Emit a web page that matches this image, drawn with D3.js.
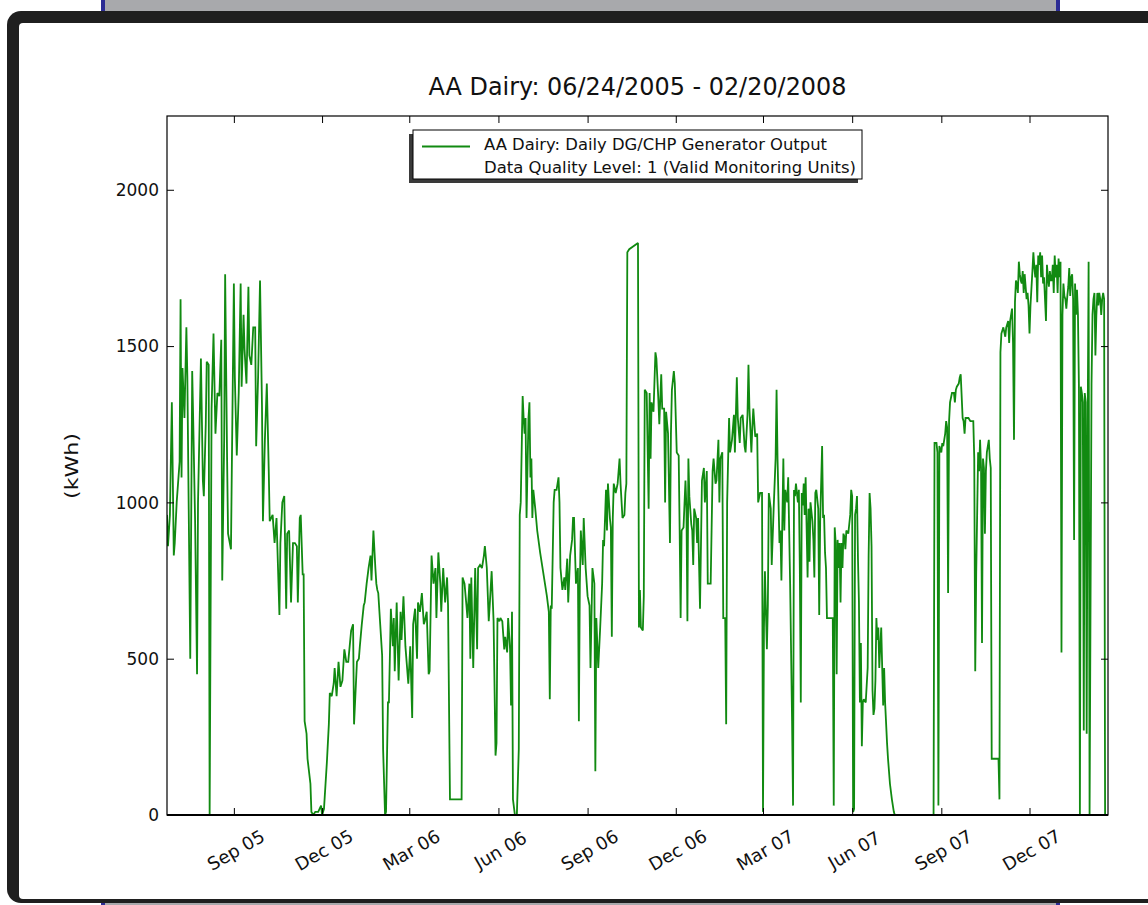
<!DOCTYPE html>
<html>
<head>
<meta charset="utf-8">
<script src="https://cdn.jsdelivr.net/npm/d3@7"></script>
<style>
  html, body { margin: 0; padding: 0; background: #ffffff; }
  svg { display: block; }
  text { font-family: "DejaVu Sans", "Liberation Sans", sans-serif; }
</style>
</head>
<body>
<svg id="chart" width="1148" height="905"></svg>
<script>
// ---------------- data ----------------
const chartTitle = "AA Dairy: 06/24/2005 - 02/20/2008";
const legendLines = ["AA Dairy: Daily DG/CHP Generator Output", "Data Quality Level: 1 (Valid Monitoring Units)"];
const yLabel = "(kWh)";
const startDate = "2005-06-24";
const endDate = "2008-02-20";
const yTicks = [0, 500, 1000, 1500, 2000];
const xTickDates = ["2005-09-01", "2005-12-01", "2006-03-01", "2006-06-01", "2006-09-01", "2006-12-01",
                    "2007-03-01", "2007-06-01", "2007-09-01", "2007-12-01"];
const xTickLabels = ["Sep 05", "Dec 05", "Mar 06", "Jun 06", "Sep 06", "Dec 06", "Mar 07", "Jun 07", "Sep 07", "Dec 07"];

// days after start date
const dayOffsets = [
  0,1,3,5,7,8,10,13,14,15,16,18,20,21,24,26,27,29,31,32,35,37,38,40,41,43,44,46,48,50,52,54,56,57,59,60,62,63,66,67,69,70,72,74,76,77,79,80,82,84,85,87,89,91,92,94,96,98,99,101,103,105,106,109,111,113,116,117,119,121,123,124,126,128,130,132,134,135,137,138,140,141,142,144,145,148,149,151,
  153,156,159,160,162,165,167,168,170,172,173,175,177,179,181,183,185,187,190,192,193,196,198,199,201,203,204,206,208,210,211,213,215,216,217,218,220,222,223,225,226,228,229,231,233,234,235,237,239,241,242,244,246,247,249,251,253,254,256,258,259,261,263,265,266,268,270,271,273,275,277,278,280,282,283,285,287,289,290,292,304,305,307,309,310,312,313,314,
  316,318,320,321,323,325,327,328,330,332,333,335,337,339,340,341,343,344,346,348,349,351,352,354,355,356,357,359,361,363,364,365,367,368,369,370,371,373,374,375,376,377,378,380,382,385,388,392,394,395,396,397,399,400,402,404,405,406,408,410,411,413,414,416,418,419,420,422,424,425,426,427,429,430,432,434,436,437,439,441,442,443,445,447,449,450,451,453,454,455,457,458,459,460,461,463,465,467,468,470,472,473,474,475,477,
  486,487,488,489,491,492,493,495,497,498,499,500,502,504,505,507,508,510,511,513,514,515,517,519,520,521,523,524,526,528,529,530,531,533,535,536,537,538,539,541,542,543,544,546,547,548,550,552,554,555,557,558,561,563,564,566,567,569,570,571,573,574,576,577,578,580,581,583,585,586,588,589,591,592,594,596,597,599,600,601,603,604,605,607,609,610,612,614,615,616,617,619,620,621,623,624,626,628,629,630,632,633,634,636,637,
  638,640,641,643,645,646,647,648,649,651,652,653,654,655,656,657,658,659,661,662,663,664,666,667,668,669,670,672,673,674,676,677,678,679,680,681,687,688,689,690,691,692,693,694,695,696,697,698,699,700,701,703,704,705,706,707,708,709,710,711,712,713,714,715,716,717,718,719,721,723,724,725,726,727,728,729,730,731,732,733,734,735,736,737,738,739,740,741,743,744,746,748,750,751,791,
  792,794,795,796,797,799,800,801,803,804,805,806,807,808,810,812,813,814,815,817,818,819,821,822,823,824,825,827,829,830,832,833,834,835,837,838,839,840,841,842,843,844,845,846,848,849,850,851,858,859,860,861,863,865,866,868,869,870,872,873,874,875,876,877,878,879,880,881,882,883,884,885,887,888,889,890,891,893,894,895,896,897,898,899,900,901,902,903,904,905,907,908,909,910,911,912,913,914,915,916,917,918,919,920,921,922,923,924,925,926,927,928,929,930,931,932,933,934,935,936,937,938,939,940,941,942,943,944,945,946,947,948,949,950,951,952,954,955,956,957,958,959,960,961,962,963,964,965,966,967,968,971
];
const kwh = [
  960,860,960,1320,830,870,1000,1130,1650,1080,1430,1270,1560,1400,500,1420,1270,940,450,1000,1460,1070,1020,1250,1450,1440,0,1300,1540,1220,1350,1340,1520,750,1200,1730,1140,900,850,1140,1700,1400,1150,1350,1700,1370,1600,1490,1380,1690,1470,1440,1560,1560,1180,1400,1710,1310,940,1200,1380,1100,940,960,870,950,640,870,1000,1020,660,900,910,680,870,870,860,680,950,960,770,770,300,260,180,100,10,0,
  10,10,30,0,20,170,290,390,380,420,470,380,490,410,430,530,490,490,590,610,290,490,500,540,610,670,680,740,790,830,750,910,790,740,720,710,610,510,210,0,10,360,360,660,540,630,460,680,430,650,560,700,540,500,420,540,310,610,660,500,680,650,710,610,620,650,450,460,830,740,790,630,840,740,650,790,680,760,670,50,50,760,740,670,630,740,500,760,
  470,790,530,790,800,790,830,860,790,620,670,780,620,190,230,630,620,630,620,530,570,520,630,530,350,650,50,0,0,210,960,1000,1340,1270,1220,1270,950,1270,1320,1080,1140,950,1040,980,910,840,780,700,650,370,670,660,1000,1040,1040,1080,1000,790,720,760,720,820,680,830,880,950,950,740,790,300,740,910,800,950,790,700,670,470,790,740,140,630,470,600,740,880,860,1040,910,1060,950,920,570,950,1060,1030,1060,1140,1060,950,960,1030,1060,1800,1810,
  1830,600,720,600,590,700,1360,1350,980,1350,1140,1320,1290,1480,1460,1330,1250,1410,1300,1300,1000,1290,1220,870,1220,1360,1420,1380,1160,1150,910,630,910,920,1070,980,620,1140,1020,930,910,800,980,950,870,950,660,1070,1110,1000,1100,740,740,1100,1140,1060,1070,1200,1000,1140,1160,630,630,290,1000,1270,1160,1200,1280,1160,1400,1270,1190,1270,1280,1180,1160,1280,1440,1300,1160,1240,1300,1210,1220,1000,1030,1030,10,600,780,530,670,1030,980,800,980,1140,1360,1140,870,910,750,1140,910,
  1040,1000,1080,740,300,30,1040,1020,1060,1000,1040,790,360,1030,990,1060,960,1080,760,980,810,1000,940,880,760,1030,1040,980,640,940,1180,950,960,840,790,630,630,30,920,870,450,880,790,870,680,870,790,900,890,850,910,900,930,960,1040,1020,10,20,960,980,1020,820,680,360,550,220,360,370,360,470,830,1030,980,860,400,320,340,430,630,560,600,470,540,600,470,350,470,360,230,180,100,50,10,0,0,
  1190,1190,1160,30,1180,1160,1190,1180,1220,1260,1240,710,1260,1320,1350,1350,1320,1360,1370,1380,1400,1410,1270,1260,1220,1270,1270,1270,1260,1260,1260,1140,460,770,1160,1100,1200,1110,550,1140,1110,900,1100,1160,1200,1140,1110,180,180,50,1480,1540,1560,1530,1560,1580,1510,1580,1620,1510,1200,1640,1710,1700,1670,1770,1730,1710,1700,1740,1670,1730,1650,1670,1630,1540,1630,1740,1800,1750,1720,1760,1640,1790,1760,1800,1720,1790,1700,1720,1580,1760,1720,1690,1740,1710,1710,1760,1670,1790,1720,1760,1670,1780,1720,1770,520,1600,1700,1660,1650,1620,1660,1690,1750,1660,1720,1730,1650,880,1700,1600,1680,1600,1370,0,1370,1350,1320,270,1350,1320,260,1240,1770,0,1380,1600,1650,1670,1470,1600,1670,1630,1670,1650,1600,1650,1670,1650,0,0
];

// ---------------- drawing ----------------
const svg = d3.select("#chart");

// background frame (screenshot surroundings)
svg.append("rect").attr("x", 103).attr("y", 0).attr("width", 956).attr("height", 905).attr("fill", "#a8a9ac");
svg.append("rect").attr("x", 101).attr("y", 0).attr("width", 4).attr("height", 905).attr("fill", "#2c2c94");
svg.append("rect").attr("x", 1056).attr("y", 0).attr("width", 4).attr("height", 905).attr("fill", "#2c2c94");
svg.append("rect").attr("x", 7).attr("y", 11).attr("width", 1160).attr("height", 892).attr("rx", 14).attr("fill", "#1f1f1f");
svg.append("rect").attr("x", 19).attr("y", 23).attr("width", 1140).attr("height", 876).attr("rx", 4).attr("fill", "#ffffff");

const m = { left: 167, right: 1108, top: 116, bottom: 815 };
const parse = d3.timeParse("%Y-%m-%d");
const t0 = parse(startDate), t1 = parse(endDate);

const x = d3.scaleTime().domain([t0, t1]).range([m.left, m.right]);
const y = d3.scaleLinear().domain([0, 2236]).range([m.bottom, m.top]);

const data = dayOffsets.map((d, i) => ({ date: d3.timeDay.offset(t0, d), v: kwh[i] }));

const g = svg.append("g");
g.append("rect").attr("x", m.left).attr("y", m.top).attr("width", m.right - m.left).attr("height", m.bottom - m.top).attr("fill", "#fff");

const clip = svg.append("defs").append("clipPath").attr("id", "plotclip");
clip.append("rect").attr("x", m.left).attr("y", m.top - 2).attr("width", m.right - m.left).attr("height", m.bottom - m.top + 2);

const line = d3.line().x(d => x(d.date)).y(d => y(d.v));
g.append("path").datum(data)
  .attr("clip-path", "url(#plotclip)")
  .attr("d", line).attr("fill", "none").attr("stroke", "#118a11").attr("stroke-width", 1.8)
  .attr("stroke-linejoin", "miter").attr("stroke-miterlimit", 2);

// axes with inward ticks
const tickDates = xTickDates.map(parse);
const bottomAxis = d3.axisBottom(x).tickValues(tickDates).tickSize(-7).tickFormat("");
const topAxis = d3.axisTop(x).tickValues(tickDates).tickSize(-7).tickFormat("");
const leftAxis = d3.axisLeft(y).tickValues(yTicks).tickSize(-7).tickFormat("");
const rightAxis = d3.axisRight(y).tickValues(yTicks).tickSize(-7).tickFormat("");

function styleAxis(sel) {
  sel.select(".domain").remove();
  sel.selectAll(".tick line").attr("stroke", "#000").attr("stroke-width", 1);
}
g.append("g").attr("transform", `translate(0,${m.bottom})`).call(bottomAxis).call(styleAxis);
g.append("g").attr("transform", `translate(0,${m.top})`).call(topAxis).call(styleAxis);
g.append("g").attr("transform", `translate(${m.left},0)`).call(leftAxis).call(styleAxis);
g.append("g").attr("transform", `translate(${m.right},0)`).call(rightAxis).call(styleAxis);

// axes frame
g.append("rect").attr("x", m.left).attr("y", m.top).attr("width", m.right - m.left).attr("height", m.bottom - m.top)
  .attr("fill", "none").attr("stroke", "#000").attr("stroke-width", 1.2);
g.append("line").attr("x1", m.left).attr("x2", m.right).attr("y1", m.bottom).attr("y2", m.bottom)
  .attr("stroke", "#000").attr("stroke-width", 2);

// y tick labels
g.selectAll(".ylab").data(yTicks).join("text")
  .attr("x", m.left - 8).attr("y", d => y(d)).attr("dy", "0.36em")
  .attr("text-anchor", "end").attr("font-size", 17).attr("fill", "#111")
  .text(d => d);

// x tick labels rotated 30 degrees
g.selectAll(".xlab").data(tickDates).join("text")
  .attr("transform", d => `translate(${x(d) + 2},${m.bottom + 35}) rotate(-30)`)
  .attr("text-anchor", "middle").attr("dy", "0.36em")
  .attr("font-size", 18).attr("fill", "#111")
  .text((d, i) => xTickLabels[i]);

// y axis label
svg.append("text").attr("transform", `translate(78,466) rotate(-90)`)
  .attr("text-anchor", "middle").attr("font-size", 18).attr("fill", "#111")
  .attr("textLength", 66).attr("lengthAdjust", "spacingAndGlyphs")
  .text(yLabel);

// title
svg.append("text").attr("x", (m.left + m.right) / 2).attr("y", 95)
  .attr("text-anchor", "middle").attr("font-size", 25).attr("fill", "#111")
  .attr("textLength", 418).attr("lengthAdjust", "spacingAndGlyphs")
  .text(chartTitle);

// legend with shadow
const lg = svg.append("g");
lg.append("rect").attr("x", 409).attr("y", 134).attr("width", 449).attr("height", 49).attr("fill", "#3a3a3a");
lg.append("rect").attr("x", 413).attr("y", 130).attr("width", 449).attr("height", 49)
  .attr("fill", "#fff").attr("stroke", "#000").attr("stroke-width", 1);
lg.append("line").attr("x1", 422).attr("x2", 470).attr("y1", 146.5).attr("y2", 146.5)
  .attr("stroke", "#118a11").attr("stroke-width", 1.8);
const legendW = [343, 372];
lg.selectAll(".lt").data(legendLines).join("text")
  .attr("x", 484).attr("y", (d, i) => 150 + i * 23)
  .attr("font-size", 15).attr("fill", "#111")
  .attr("textLength", (d, i) => legendW[i]).attr("lengthAdjust", "spacingAndGlyphs")
  .text(d => d);
</script>
</body>
</html>
